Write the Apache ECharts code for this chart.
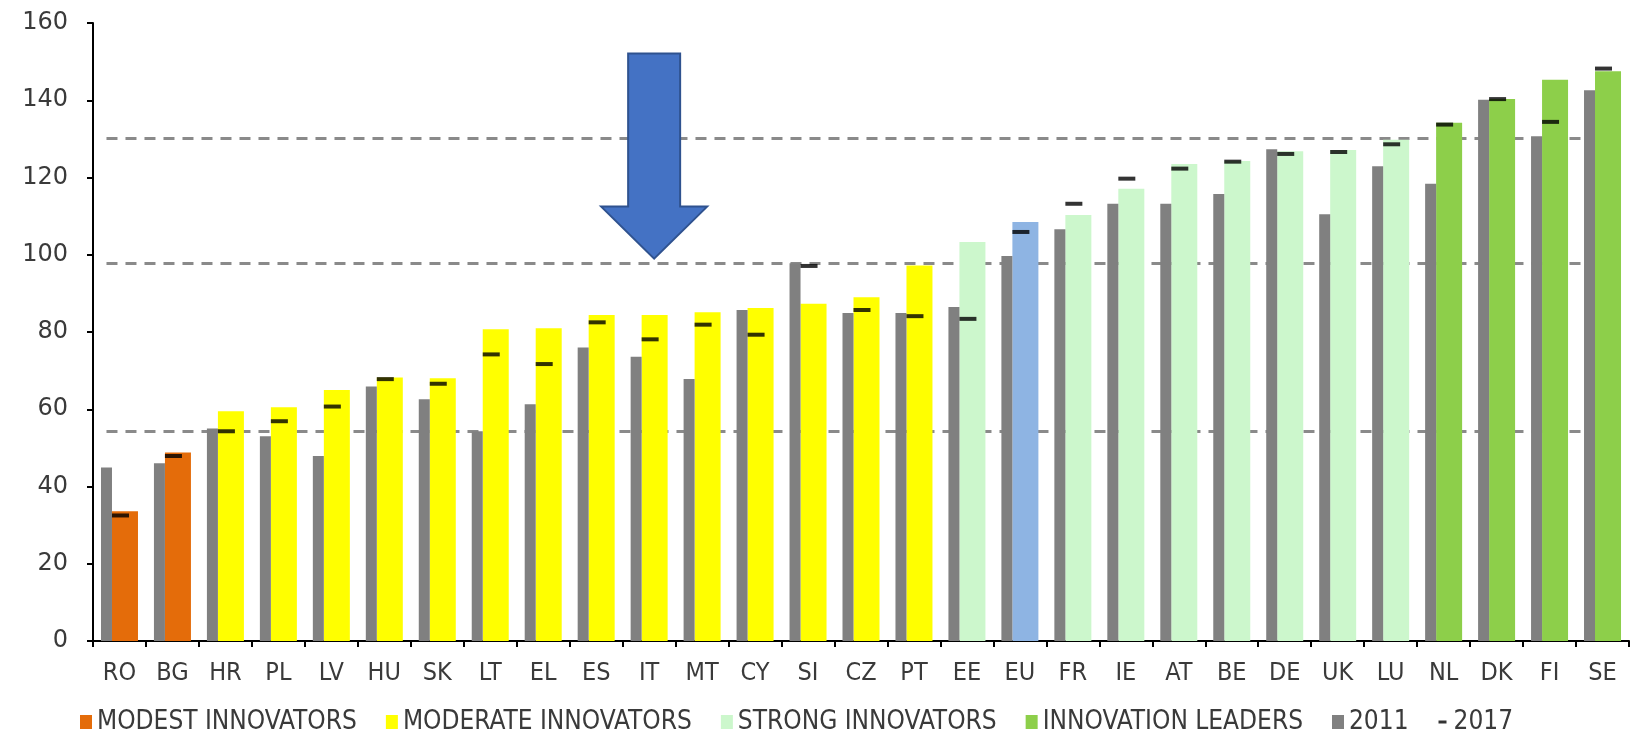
<!DOCTYPE html>
<html><head><meta charset="utf-8">
<script src="https://cdn.jsdelivr.net/npm/echarts@6/dist/echarts.min.js"></script>
<style>html,body{margin:0;padding:0;background:#fff}#c{width:1635px;height:741px}</style>
</head><body><div id="c"></div>
<script>
const categories = ['RO','BG','HR','PL','LV','HU','SK','LT','EL','ES','IT','MT','CY','SI','CZ','PT','EE','EU','FR','IE','AT','BE','DE','UK','LU','NL','DK','FI','SE'];
const groups = ['modest','modest',
  'moderate','moderate','moderate','moderate','moderate','moderate','moderate','moderate','moderate','moderate','moderate','moderate','moderate','moderate',
  'strong','eu','strong','strong','strong','strong','strong','strong','strong',
  'leader','leader','leader','leader'];
const values2011 = [44.9,46.0,55.0,53.0,47.9,65.9,62.6,54.3,61.3,76.0,73.6,67.8,85.7,97.8,84.9,84.9,86.5,99.7,106.6,113.2,113.2,115.7,127.3,110.5,122.9,118.4,140.1,130.7,142.6];
const valuesCurrent = [33.6,48.8,59.5,60.5,65.0,68.2,68.0,80.7,81.0,84.4,84.4,85.1,86.2,87.3,89.0,97.2,103.3,108.5,110.3,117.1,123.5,124.3,126.8,127.1,129.8,134.2,140.3,145.3,147.5];
const values2017 = [32.5,47.9,54.3,56.9,60.7,67.8,66.6,74.2,71.7,82.5,78.1,81.9,79.3,97.1,85.7,84.1,83.4,105.9,113.2,119.7,122.3,124.1,126.1,126.6,128.6,133.7,140.3,134.4,148.2];
const thresholds = [54.3, 97.7, 130.1];
const groupNames = {modest:'MODEST INNOVATORS', moderate:'MODERATE INNOVATORS', strong:'STRONG INNOVATORS', leader:'INNOVATION LEADERS', eu:'EU'};
const groupColors = {modest:'#E46C0A', moderate:'#FFFF00', strong:'#CCF7CC', leader:'#8DCF4A', eu:'#8EB4E3'};
const legendNames = ['MODEST INNOVATORS','MODERATE INNOVATORS','STRONG INNOVATORS','INNOVATION LEADERS','2011','2017'];
const yMin = 0, yMax = 160, yStep = 20;

const chart = echarts.init(document.getElementById('c'), null, {renderer:'canvas'});
const textColor = '#3a3a3a';
const groupSeries = ['modest','moderate','strong','eu','leader'].map(g => ({
  name: groupNames[g], type:'bar', stack:'current', barWidth:26, barGap:'0%',
  itemStyle:{color:groupColors[g]}, z:2,
  data: valuesCurrent.map((v,i)=> groups[i]===g ? v : null)
}));
const option = {
  backgroundColor:'#fff',
  animation:false,
  grid:{left:93, right:6, top:23, bottom:100, containLabel:false, outerBoundsMode:'none'},
  legend:{
    data: legendNames.map(n => n==='2017'
      ? {name:n, icon:'path://M0,0M10,14M1,5.5h8v3h-8z'}
      : {name:n, icon:'rect'}),
    left:75, bottom:1, itemWidth:12, itemHeight:14, itemGap:29,
    textStyle:{fontFamily:'DejaVu Sans Condensed', fontSize:26, color:textColor},
    selectedMode:false
  },
  xAxis:{
    type:'category', data:categories,
    axisLine:{show:true, lineStyle:{color:'#000', width:2}},
    axisTick:{show:true, length:6, lineStyle:{color:'#000', width:2}},
    axisLabel:{interval:0, margin:20, fontFamily:'DejaVu Sans Condensed', fontSize:25, color:textColor},
    splitLine:{show:false}
  },
  yAxis:{
    type:'value', min:yMin, max:yMax, interval:yStep,
    axisLine:{show:true, lineStyle:{color:'#000', width:2}},
    axisTick:{show:true, length:6, lineStyle:{color:'#000', width:2}},
    axisLabel:{margin:25, fontFamily:'DejaVu Sans', fontSize:24, color:textColor},
    splitLine:{show:false}
  },
  series:[
    {name:'2011', type:'bar', barWidth:11, barGap:'0%', itemStyle:{color:'#808080'}, z:3,
     data: values2011,
     markLine:{silent:true, symbol:'none', z:1,
       label:{show:false},
       lineStyle:{color:'#8a8a8a', type:[11,8], width:3},
       data: thresholds.map(v => [{coord:[categories[0], v]}, {coord:[categories[categories.length-1], v]}])
     }},
    ...groupSeries,
    {name:'2017', type:'scatter', symbol:'rect', symbolSize:[17,4], symbolOffset:[1,0],
     itemStyle:{color:'#000'}, z:5, data: values2017}
  ]
};
chart.setOption(option);

// annotation arrow pointing at IT
const arrowCategory = 'IT', arrowTipValue = 99;
const tip = chart.convertToPixel({xAxisIndex:0, yAxisIndex:0}, [arrowCategory, arrowTipValue]);
const tx = tip[0] + 5, ty = tip[1];
const shaftHalf = 26, headHalf = 53, headLen = 52, totalLen = 205;
chart.setOption({graphic:[{
  type:'polygon', z:100,
  shape:{points:[
    [tx-shaftHalf, ty-totalLen],[tx+shaftHalf, ty-totalLen],[tx+shaftHalf, ty-headLen],
    [tx+headHalf, ty-headLen],[tx, ty],[tx-headHalf, ty-headLen],[tx-shaftHalf, ty-headLen]
  ]},
  style:{fill:'#4472C4', stroke:'#2F528F', lineWidth:2}
}]});
</script></body></html>
